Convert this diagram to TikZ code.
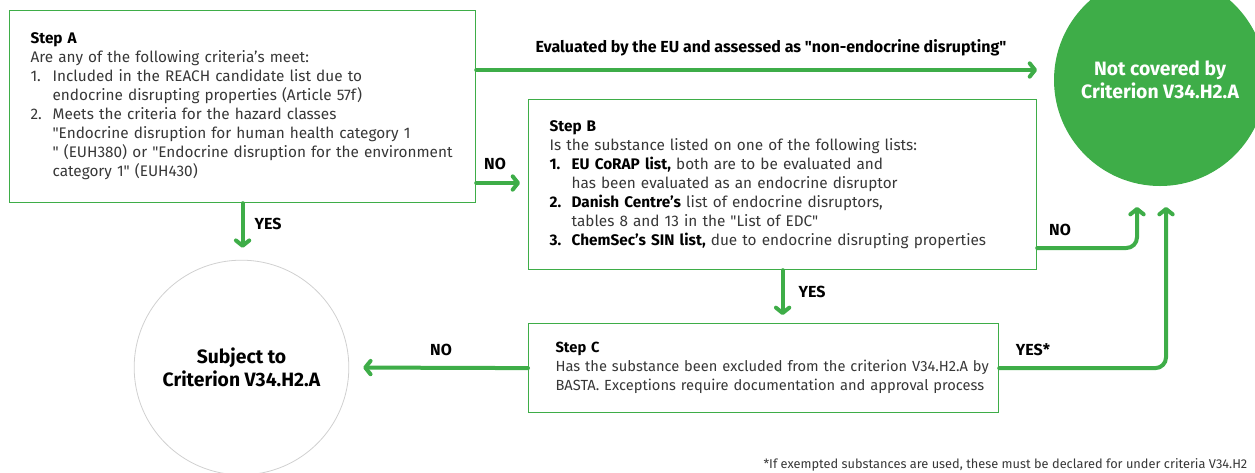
\documentclass[tikz,border=0pt]{standalone}
\usepackage{fontspec}
\setmainfont{Fira Sans}[Ligatures=TeXOff]
\usetikzlibrary{arrows.meta}
\definecolor{brandgreen}{RGB}{62,173,72}
\definecolor{bodygray}{RGB}{55,55,55}
\definecolor{ringgray}{RGB}{208,208,208}
\newcommand{\itemno}[1]{\makebox[16.5pt][l]{#1}}
\newcommand{\itemgap}{\hspace*{16.5pt}}
\newcommand{\stephead}[1]{{\color{black}\bfseries #1}}

\begin{document}
\begin{tikzpicture}[
        x=0.75pt, y=-0.75pt,
        every node/.style={
            font=\fontsize{11.5}{14.25}\selectfont
        },
        stepbox/.style={
            draw=brandgreen,
            line width=0.9pt,
            anchor=north west,
            align=left,
            text=bodygray,
            inner xsep=15.75pt,
            inner ysep=0pt
        },
        endcircle/.style={
            circle,
            align=center,
            font=\fontsize{14.5}{17.25}\selectfont\bfseries
        },
        lbl/.style={
            font=\fontsize{12}{14}\selectfont\bfseries,
            text=black
        },
        flow/.style={
            draw=brandgreen,
            line width=3pt,
            line cap=round,
            line join=round,
            -{Straight Barb[round, length=4pt, width=10pt]}
        }
    ]
    \useasboundingbox (0,0) rectangle (1255,472);
    % 步骤A
    \node[stepbox, text width=318pt, minimum height=144pt] (stepA) at (9,10) {
        \stephead{Step A}\\
        Are any of the following criteria’s meet:\\
        \itemno{1.}Included in the REACH candidate list due to\\
        \itemgap endocrine disrupting properties (Article 57f)\\
        \itemno{2.}Meets the criteria for the hazard classes\\
        \itemgap "Endocrine disruption for human health category 1\\
        \itemgap " (EUH380) or "Endocrine disruption for the environment\\
        \itemgap category 1" (EUH430)
    };
    % 步骤B
    \node[stepbox, text width=349.5pt, minimum height=127.5pt] (stepB) at (528,99) {
        \stephead{Step B}\\
        Is the substance listed on one of the following lists:\\
        \itemno{\stephead{1.}}\stephead{EU CoRAP list,} both are to be evaluated and\\
        \itemgap has been evaluated as an endocrine disruptor\\
        \itemno{\stephead{2.}}\stephead{Danish Centre’s} list of endocrine disruptors,\\
        \itemgap tables 8 and 13 in the "List of EDC"\\
        \itemno{\stephead{3.}}\stephead{ChemSec’s SIN list,} due to endocrine disrupting properties
    };
    % 步骤C
    \node[stepbox, inner xsep=20.25pt, text width=312pt, minimum height=66.75pt,
          font=\fontsize{11}{14.25}\selectfont] (stepC) at (528,323) {
        \stephead{Step C}\\
        \mbox{Has the substance been excluded from the criterion V34.H2.A by}\\
        \mbox{BASTA. Exceptions require documentation and approval process}
    };
    % 结果节点
    \node[endcircle, fill=brandgreen, text=white, minimum size=159pt] (notcov) at (1160,80)
        {Not covered by\\Criterion V34.H2.A};
    \node[endcircle, draw=ringgray, line width=0.6pt, text=black, minimum size=161pt] (subj) at (241.5,367.5)
        {Subject to\\Criterion V34.H2.A};

    % 连线
    \coordinate (euin) at (1037,70);
    \coordinate (nbin) at (1137,207);
    \coordinate (ycin) at (1166,207);
    \draw[flow] (stepA.east |- euin) -- (euin);
    \draw[flow, shorten >=6pt] (stepA.east |- 0,183) -- (stepB.west |- 0,183);
    \draw[flow, shorten >=9pt] (stepA.south) -- (stepA.south |- subj.north);
    \draw[flow, shorten >=6pt] (stepB.south) -- (stepB.south |- stepC.north);
    \draw[flow, shorten >=10.5pt] (stepC.west) -- (subj.east);
    \draw[flow, rounded corners=8pt] (stepB.east |- 0,248) -| (nbin);
    \draw[flow, rounded corners=8pt] (stepC.east) -| (ycin);

    % 标签
    \node[lbl] (evalnote) at (771,48) {Evaluated by the EU and assessed as "non-endocrine disrupting"};
    \node[lbl] (noAB) at (495,164) {NO};
    \node[lbl] (yesA) at (268,224) {YES};
    \node[lbl] (yesB) at (812,292) {YES};
    \node[lbl] (noC) at (441,350) {NO};
    \node[lbl] (noB) at (1060,230) {NO};
    \node[lbl] (yesC) at (1033,350) {YES*};
    \node[anchor=base east, font=\fontsize{9.6}{12}\selectfont, text=bodygray] (footnote) at (1252,468)
        {*If exempted substances are used, these must be declared for under criteria V34.H2};
\end{tikzpicture}
\end{document}
